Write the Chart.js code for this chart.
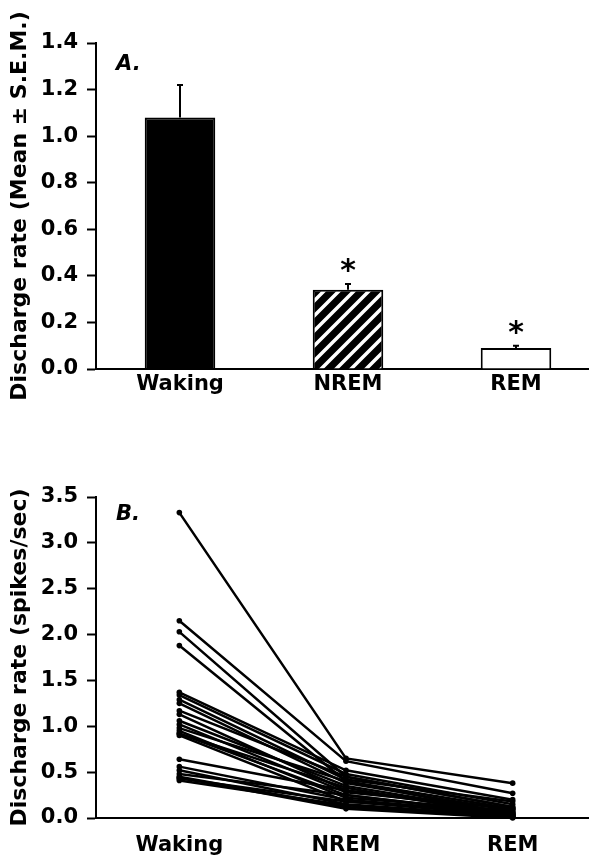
<!DOCTYPE html>
<html>
<head>
<meta charset="utf-8">
<script src="https://cdn.jsdelivr.net/npm/chart.js@4.4.1/dist/chart.umd.min.js"></script>
<style>
  html, body { margin: 0; padding: 0; background: #fff; overflow: hidden; }
  canvas { position: absolute; left: 0; }
  #chartA { top: 0; }
  #chartB { top: 440px; }
</style>
</head>
<body>
<canvas id="chartA" width="600" height="410"></canvas>
<canvas id="chartB" width="600" height="416"></canvas>
<script>
const states = ['Waking', 'NREM', 'REM']

// A: group mean and S.E.M.
const meanRate = [1.08, 0.34, 0.09]
const semRate = [0.14, 0.025, 0.01]
const significant = [false, true, true]
const yTicksA = [0, 0.2, 0.4, 0.6, 0.8, 1.0, 1.2, 1.4]

// B: one value per neuron and state
const wakingRate = [3.33, 2.15, 2.03, 1.88, 1.37, 1.34, 1.29, 1.25, 1.17, 1.13, 1.06, 1.02, 0.98, 0.95, 0.92, 0.90, 0.92, 0.64, 0.56, 0.52, 0.48, 0.45, 0.44, 0.43, 0.41]
const nremRate   = [0.65, 0.62, 0.45, 0.40, 0.52, 0.48, 0.42, 0.38, 0.45, 0.30, 0.35, 0.28, 0.40, 0.22, 0.33, 0.18, 0.25, 0.30, 0.20, 0.15, 0.25, 0.12, 0.10, 0.18, 0.14]
const remRate    = [0.38, 0.27, 0.12, 0.10, 0.20, 0.15, 0.18, 0.08, 0.12, 0.06, 0.05, 0.10, 0.04, 0.08, 0.02, 0.06, 0.03, 0.10, 0.05, 0.02, 0.04, 0.01, 0.00, 0.03, 0.02]
const yTicksB = [0, 0.5, 1.0, 1.5, 2.0, 2.5, 3.0, 3.5]

Chart.defaults.font.family = "'DejaVu Sans', sans-serif"
Chart.defaults.font.weight = 'bold'
Chart.defaults.color = '#000'

// black tile with white diagonal stripes for the NREM bar
function hatch(ctx) {
  let c = document.createElement('canvas')
  c.width = 15; c.height = 15
  let g = c.getContext('2d')
  g.fillStyle = '#000'
  g.fillRect(0, 0, 15, 15)
  g.strokeStyle = '#fff'
  g.lineWidth = 3.5
  g.beginPath()
  g.moveTo(-2, 17); g.lineTo(17, -2)
  g.moveTo(-2, 2); g.lineTo(2, -2)
  g.moveTo(13, 17); g.lineTo(17, 13)
  g.stroke()
  return ctx.createPattern(c, 'repeat')
}

const panelLabel = {
  id: 'panelLabel',
  afterDraw(chart, args, opts) {
    let ctx = chart.ctx, area = chart.chartArea
    ctx.save()
    ctx.fillStyle = '#000'
    ctx.font = "italic bold 21px 'DejaVu Sans'"
    ctx.textBaseline = 'alphabetic'
    ctx.fillText(opts.text, area.left + 20, area.top + opts.dy)
    ctx.restore()
  }
}

const errorBars = {
  id: 'errorBars',
  afterDatasetsDraw(chart) {
    let ctx = chart.ctx, y = chart.scales.y
    let meta = chart.getDatasetMeta(0)
    ctx.save()
    ctx.strokeStyle = '#000'
    ctx.fillStyle = '#000'
    ctx.lineWidth = 2
    meta.data.forEach((bar, i) => {
      let top = y.getPixelForValue(meanRate[i] + semRate[i])
      ctx.beginPath()
      ctx.moveTo(bar.x, bar.y)
      ctx.lineTo(bar.x, top)
      ctx.moveTo(bar.x - 3, top)
      ctx.lineTo(bar.x + 3, top)
      ctx.stroke()
      if (significant[i]) {
        ctx.font = "bold 30px 'DejaVu Sans'"
        ctx.textAlign = 'center'
        ctx.fillText('*', bar.x, top - 20 + 16)
      }
    })
    ctx.restore()
  }
}

function yAxis(ticks, max, title) {
  return {
    min: 0, max: max,
    afterFit: s => { s.width = 96 },
    afterBuildTicks: s => { s.ticks = ticks.map(v => ({ value: v })) },
    ticks: { callback: v => v.toFixed(1), padding: 9, font: { size: 21, weight: 'bold' } },
    grid: { drawOnChartArea: false, tickLength: 9, tickColor: '#000', tickWidth: 2 },
    border: { color: '#000', width: 2 },
    title: { display: true, text: title, font: { size: 22, weight: 'bold' }, padding: { top: 7, bottom: 0 } }
  }
}

function xAxis(height, pad) {
  return {
    offset: true,
    afterFit: s => { s.height = height },
    grid: { drawOnChartArea: false, drawTicks: false },
    border: { color: '#000', width: 2 },
    ticks: { padding: pad, font: { size: 21, weight: 'bold' } }
  }
}

let grafA = document.querySelector('#chartA').getContext('2d')
new Chart(grafA, {
  type: 'bar',
  data: {
    labels: states,
    datasets: [{
      data: meanRate,
      backgroundColor: ['#000', hatch(grafA), '#fff'],
      borderColor: '#000',
      borderWidth: 2,
      categoryPercentage: 1,
      barPercentage: 0.42
    }]
  },
  options: {
    responsive: false,
    animation: false,
    devicePixelRatio: 1,
    layout: { padding: { top: 43, left: 0, right: 0, bottom: 0 } },
    scales: {
      x: xAxis(41, 3),
      y: yAxis(yTicksA, 1.4, 'Discharge rate (Mean ± S.E.M.)')
    },
    plugins: {
      legend: { display: false },
      tooltip: { enabled: false },
      panelLabel: { text: 'A.', dy: 27 }
    }
  },
  plugins: [errorBars, panelLabel]
})

let grafB = document.querySelector('#chartB').getContext('2d')
new Chart(grafB, {
  type: 'line',
  data: {
    labels: states,
    datasets: wakingRate.map((w, i) => ({
      data: [w, nremRate[i], remRate[i]],
      borderColor: '#000',
      borderWidth: 2.5,
      pointRadius: 2.8,
      pointBorderWidth: 0,
      pointBackgroundColor: '#000',
      clip: false
    }))
  },
  options: {
    responsive: false,
    animation: false,
    devicePixelRatio: 1,
    layout: { padding: { top: 57, left: 0, right: 0, bottom: 0 } },
    scales: {
      x: xAxis(38, 15),
      y: yAxis(yTicksB, 3.5, 'Discharge rate (spikes/sec)')
    },
    plugins: {
      legend: { display: false },
      tooltip: { enabled: false },
      panelLabel: { text: 'B.', dy: 23 }
    }
  },
  plugins: [panelLabel]
})
</script>
</body>
</html>
